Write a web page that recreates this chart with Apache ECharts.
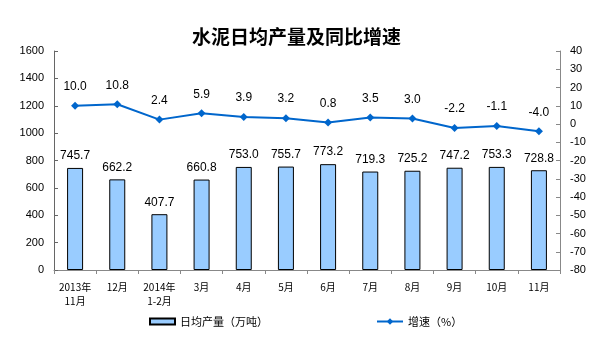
<!DOCTYPE html>
<html>
<head>
<meta charset="utf-8">
<script src="https://cdn.jsdelivr.net/npm/echarts@6/dist/echarts.min.js"></script>
<style>
  html, body { margin: 0; padding: 0; background: #fff; }
  #chart { width: 593px; height: 351px; }
</style>
</head>
<body>
<div id="chart"></div>
<script>
// 数据
var categories = ['2013年\n11月', '12月', '2014年\n1-2月', '3月', '4月', '5月', '6月', '7月', '8月', '9月', '10月', '11月']
var output = [745.7, 662.2, 407.7, 660.8, 753.0, 755.7, 773.2, 719.3, 725.2, 747.2, 753.3, 728.8]
var growth = [10.0, 10.8, 2.4, 5.9, 3.9, 3.2, 0.8, 3.5, 3.0, -2.2, -1.1, -4.0]

var numFont = 'Liberation Sans, Arial, sans-serif'
var cjkFont = 'Noto Sans CJK SC, sans-serif'

var myChart = echarts.init(document.getElementById('chart'))

var option = {
  animation: false,
  backgroundColor: '#fff',
  title: {
    text: '水泥日均产量及同比增速',
    left: 'center',
    top: 22,
    textStyle: { fontFamily: cjkFont, fontSize: 19, fontWeight: 'bold', color: '#000' }
  },
  legend: [
    {
      data: [{ name: '日均产量（万吨）', icon: 'rect' }],
      left: 144,
      top: 311,
      itemWidth: 25,
      itemHeight: 6,
      itemGap: 4,
      textStyle: { fontFamily: cjkFont, fontSize: 11, color: '#000' }
    },
    {
      data: [{ name: '增速（%）' }],
      left: 371,
      top: 311,
      itemWidth: 26,
      itemHeight: 8,
      textStyle: { fontFamily: cjkFont, fontSize: 11, color: '#000' }
    }
  ],
  grid: { left: 54, right: 33, top: 51, bottom: 81 },
  xAxis: {
    type: 'category',
    data: categories,
    axisLine: { lineStyle: { color: '#888' } },
    axisTick: { show: true, interval: 0, length: 4, lineStyle: { color: '#888' } },
    axisLabel: {
      interval: 0,
      margin: 10,
      fontFamily: cjkFont,
      fontSize: 10,
      lineHeight: 14,
      color: '#000'
    }
  },
  yAxis: [
    {
      type: 'value',
      min: 0,
      max: 1600,
      interval: 200,
      splitLine: { show: false },
      axisLine: { show: true, lineStyle: { color: '#666' } },
      axisTick: { show: true, inside: true, length: 4, lineStyle: { color: '#666' } },
      axisLabel: {
        fontFamily: numFont, fontSize: 11, color: '#000', margin: 10,
        formatter: function (v) { return String(v) }
      }
    },
    {
      type: 'value',
      min: -80,
      max: 40,
      interval: 10,
      splitLine: { show: false },
      axisLine: { show: true, lineStyle: { color: '#888' } },
      axisTick: { show: true, inside: true, length: 4, lineStyle: { color: '#888' } },
      axisLabel: { fontFamily: numFont, fontSize: 11, color: '#000', margin: 10 }
    }
  ],
  series: [
    {
      name: '日均产量（万吨）',
      type: 'bar',
      data: output,
      barWidth: 16,
      itemStyle: { color: '#99CCFF', borderColor: '#000', borderWidth: 1 },
      label: {
        show: true,
        position: 'top',
        distance: 6,
        fontFamily: numFont,
        fontSize: 12,
        color: '#000',
        formatter: function (p) { return p.value.toFixed(1) }
      }
    },
    {
      name: '增速（%）',
      type: 'line',
      yAxisIndex: 1,
      data: growth,
      symbol: 'diamond',
      symbolSize: 8,
      lineStyle: { color: '#0066CC', width: 2 },
      itemStyle: { color: '#0066CC' },
      label: {
        show: true,
        position: 'top',
        distance: 9,
        fontFamily: numFont,
        fontSize: 12,
        color: '#000',
        formatter: function (p) { return p.value.toFixed(1) }
      }
    }
  ]
}

myChart.setOption(option)
</script>
</body>
</html>
